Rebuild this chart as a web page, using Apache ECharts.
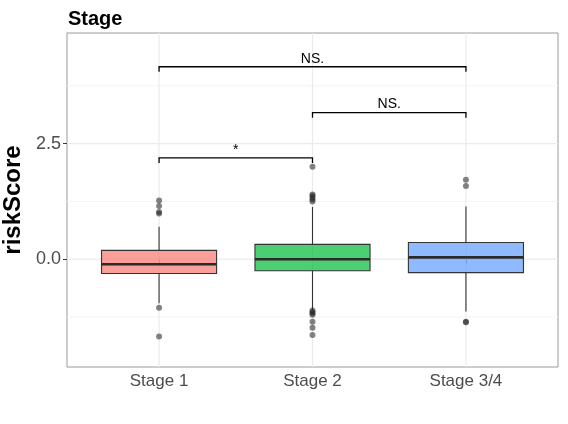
<!DOCTYPE html>
<html><head><meta charset="utf-8">
<script src="https://cdn.jsdelivr.net/npm/echarts@6/dist/echarts.min.js"></script>
<style>html,body{margin:0;padding:0;background:#fff}#c{width:568px;height:424px}</style>
</head><body><div id="c"></div>
<script>
const categories = ['Stage 1', 'Stage 2', 'Stage 3/4'];
const whiskerLow  = [-0.95, -1.10, -1.13];
const q1          = [-0.31, -0.25, -0.29];
const median      = [-0.11, 0.00, 0.04];
const q3          = [0.19, 0.32, 0.36];
const whiskerHigh = [0.70, 1.13, 1.14];
const outliersStage1 = [1.27, 1.15, 1.02, 0.99, -1.05, -1.67];
const outliersStage2 = [2.00, 1.40, 1.37, 1.33, 1.29, 1.25, -1.11, -1.14, -1.17, -1.20, -1.35, -1.48, -1.64];
const outliersStage34 = [1.72, 1.58, -1.35, -1.36];
const yTickValues = [0, 2.5];
const yMinorGrid = [-1.25, 1.25, 3.75];
const compareFrom = [1, 2, 1];
const compareTo   = [2, 3, 3];
const compareLabel = ['*', 'NS.', 'NS.'];
const compareLevel = [2.19, 3.17, 4.16];

const boxColors = ['rgba(248,118,109,0.7)', 'rgba(0,186,56,0.7)', 'rgba(97,156,255,0.7)'];
const FONT = '"Liberation Sans", Arial, sans-serif';
const yMin = -2.33, yMax = 4.89, xMin = 0.4, xMax = 3.6;

const boxData = categories.map((c, i) => [i + 1, whiskerLow[i], q1[i], median[i], q3[i], whiskerHigh[i]]);
const outlierGroups = [outliersStage1, outliersStage2, outliersStage34];
const outlierData = [];
outlierGroups.forEach((g, i) => g.forEach(v => outlierData.push([i + 1, v])));
const bracketData = compareFrom.map((f, i) => [f, compareTo[i], compareLevel[i], i]);

const chart = echarts.init(document.getElementById('c'), null, {renderer: 'canvas'});
chart.setOption({
  animation: false,
  backgroundColor: '#fff',
  title: {text: 'Stage', left: 63, top: 4, textStyle: {fontFamily: FONT, fontSize: 20, fontWeight: 'bold', color: '#000'}},
  grid: {left: 67, right: 10, top: 33, bottom: 57, show: true, borderColor: '#9a9a9a', borderWidth: 1, backgroundColor: 'transparent', containLabel: false, outerBoundsMode: 'none'},
  xAxis: {
    type: 'value', min: xMin, max: xMax,
    axisLine: {show: false},
    splitLine: {show: false},
    axisTick: {show: true, customValues: [1, 2, 3], length: 4, lineStyle: {color: '#333'}},
    axisLabel: {customValues: [1, 2, 3], formatter: v => categories[Math.round(v) - 1], fontFamily: FONT, fontSize: 17, color: '#4d4d4d', margin: 6}
  },
  yAxis: {
    type: 'value', min: yMin, max: yMax,
    name: 'riskScore', nameLocation: 'middle', nameRotate: 90, nameGap: 40,
    nameTextStyle: {fontFamily: FONT, fontSize: 24, fontWeight: 'bold', color: '#000'},
    axisLine: {show: false},
    splitLine: {show: false},
    axisTick: {show: true, customValues: yTickValues, length: 4, lineStyle: {color: '#333'}},
    axisLabel: {customValues: yTickValues, formatter: v => v.toFixed(1), fontFamily: FONT, fontSize: 18, color: '#4d4d4d', margin: 6}
  },
  series: [
    {
      type: 'custom', z: 1, silent: true,
      data: [[0]],
      renderItem: (params, api) => {
        const cs = params.coordSys;
        const children = [];
        yMinorGrid.forEach(v => {
          const y = api.coord([xMin, v])[1];
          children.push({type: 'line', shape: {x1: cs.x, y1: y, x2: cs.x + cs.width, y2: y}, style: {stroke: '#f3f3f3', lineWidth: 1}});
        });
        yTickValues.forEach(v => {
          const y = api.coord([xMin, v])[1];
          children.push({type: 'line', shape: {x1: cs.x, y1: y, x2: cs.x + cs.width, y2: y}, style: {stroke: '#ebebeb', lineWidth: 1.2}});
        });
        categories.forEach((c, i) => {
          const x = api.coord([i + 1, 0])[0];
          children.push({type: 'line', shape: {x1: x, y1: cs.y, x2: x, y2: cs.y + cs.height}, style: {stroke: '#ebebeb', lineWidth: 1.2}});
        });
        return {type: 'group', children};
      }
    },
    {
      type: 'custom', z: 3, silent: true,
      data: boxData,
      renderItem: (params, api) => {
        const x = api.value(0);
        const cx = api.coord([x, 0])[0];
        const hw = api.size([0.75, 0])[0] / 2;
        const yLo = api.coord([x, api.value(1)])[1];
        const yQ1 = api.coord([x, api.value(2)])[1];
        const yMed = api.coord([x, api.value(3)])[1];
        const yQ3 = api.coord([x, api.value(4)])[1];
        const yHi = api.coord([x, api.value(5)])[1];
        const idx = params.dataIndex;
        return {type: 'group', children: [
          {type: 'line', shape: {x1: cx, y1: yHi, x2: cx, y2: yQ3}, style: {stroke: '#333', lineWidth: 1.1}},
          {type: 'line', shape: {x1: cx, y1: yQ1, x2: cx, y2: yLo}, style: {stroke: '#333', lineWidth: 1.1}},
          {type: 'rect', shape: {x: cx - hw, y: yQ3, width: 2 * hw, height: yQ1 - yQ3}, style: {fill: boxColors[idx], stroke: '#333', lineWidth: 1.1}},
          {type: 'line', shape: {x1: cx - hw, y1: yMed, x2: cx + hw, y2: yMed}, style: {stroke: '#2a2a2a', lineWidth: 2.6}}
        ]};
      }
    },
    {
      type: 'scatter', z: 4, silent: true,
      data: outlierData,
      symbol: 'circle', symbolSize: 6,
      itemStyle: {color: 'rgba(40,40,40,0.72)'}
    },
    {
      type: 'custom', z: 5, silent: true,
      data: bracketData,
      renderItem: (params, api) => {
        const x1 = api.coord([api.value(0), 0])[0];
        const x2 = api.coord([api.value(1), 0])[0];
        const yv = api.value(2);
        const y = api.coord([0, yv])[1];
        const yTip = api.coord([0, yv - 0.11])[1];
        const label = compareLabel[api.value(3)];
        return {type: 'group', children: [
          {type: 'polyline', shape: {points: [[x1, yTip], [x1, y], [x2, y], [x2, yTip]]}, style: {stroke: '#000', lineWidth: 1.3, fill: null}},
          {type: 'text', x: (x1 + x2) / 2, y: y - 1, style: {text: label, fontFamily: FONT, fontSize: 14, fill: '#000', align: 'center', verticalAlign: 'bottom'}}
        ]};
      }
    }
  ]
});
</script></body></html>
